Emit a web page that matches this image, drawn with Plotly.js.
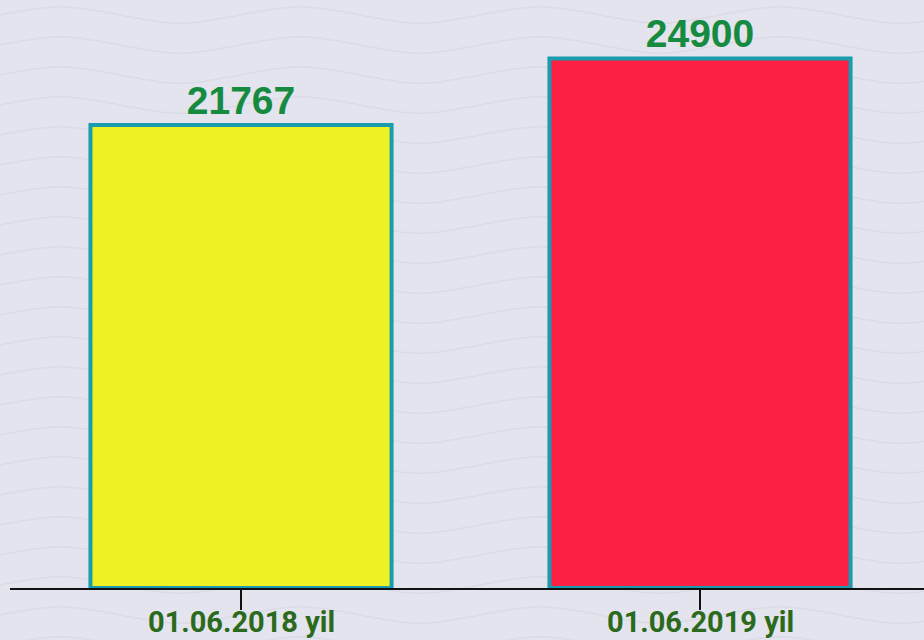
<!DOCTYPE html>
<html>
<head>
<meta charset="utf-8">
<script src="https://cdn.plot.ly/plotly-3.0.1.min.js"></script>
<style>
html,body{margin:0;padding:0;width:924px;height:640px;overflow:hidden;background-color:#E3E4ED;
background-image:url("data:image/svg+xml;utf8,<svg xmlns='http://www.w3.org/2000/svg' width='240' height='30'><path d='M0 15 C60 4 60 4 120 15 S180 26 240 15' fill='none' stroke='%23DBDBE5' stroke-width='1.5'/></svg>");
background-size:240px 30px;}
#chart{width:924px;height:640px;}
</style>
</head>
<body>
<div id="chart"></div>
<script>
const categories = ["01.06.2018 yil", "01.06.2019 yil"];
const values = [21767, 24900];
const barColors = ["#EEF225", "#FE1F45"];

const xIdx = categories.map((c, i) => i);

const trace = {
  type: "bar",
  x: xIdx,
  y: values,
  width: 0.656,
  marker: { color: barColors, line: { color: "#1A9BAE", width: 4 } },
  text: values.map(String),
  textposition: "outside",
  cliponaxis: false,
  textfont: { family: "Liberation Sans, Arial, sans-serif", size: 39, color: "#168B40", weight: 700 },
  hoverinfo: "none"
};

const tickAnnotations = categories.map((c, i) => ({
  x: i, y: 0, xref: "x", yref: "y",
  text: c, showarrow: false,
  xanchor: "center", yanchor: "top", yshift: -15,
  font: { family: "Roboto, sans-serif", size: 29, color: "#2B6A1C", weight: 700 }
}));

const layout = {
  width: 924, height: 640,
  margin: { l: 10, r: 0, t: 0, b: 52 },
  paper_bgcolor: "rgba(0,0,0,0)",
  plot_bgcolor: "rgba(0,0,0,0)",
  showlegend: false,
  annotations: tickAnnotations,
  xaxis: {
    range: [-0.5033, 1.488],
    tickvals: xIdx,
    ticktext: categories.map(() => ""),
    showgrid: false, zeroline: false,
    showline: true, linecolor: "#111111", linewidth: 2,
    ticks: "outside", ticklen: 20, tickwidth: 2, tickcolor: "#111111"
  },
  yaxis: {
    range: [0, 27650],
    visible: false, showgrid: false, zeroline: false
  }
};

Plotly.newPlot("chart", [trace], layout, { displayModeBar: false, staticPlot: true });
</script>
</body>
</html>
